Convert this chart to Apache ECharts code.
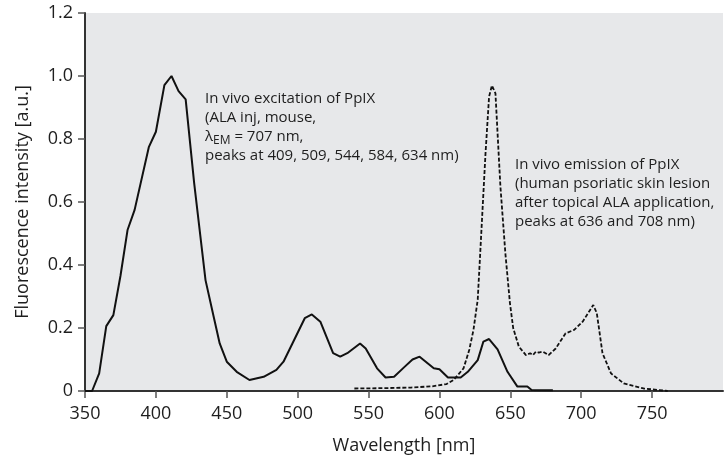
<!DOCTYPE html>
<html>
<head>
<meta charset="utf-8">
<script src="https://cdn.jsdelivr.net/npm/echarts@6/dist/echarts.min.js"></script>
<style>
  html, body { margin: 0; padding: 0; background: #fff; }
  #chart { width: 727px; height: 456px; }
</style>
</head>
<body>
<div id="chart"></div>
<script>
// excitation spectrum (solid)
const excWavelength = [350, 355, 360, 365, 370, 375, 380, 385, 395, 400, 406, 411, 416, 421, 427, 435, 441, 445, 450, 457, 466, 476, 485, 490, 505, 510, 516, 525, 530, 535, 544, 548, 556, 562, 568, 575, 581, 586, 596, 600, 606, 615, 620, 627, 631, 635, 641, 648, 655, 662, 665, 680];
const excIntensity = [0, 0, 0.056, 0.206, 0.241, 0.365, 0.511, 0.575, 0.774, 0.823, 0.971, 1.0, 0.952, 0.926, 0.66, 0.352, 0.231, 0.151, 0.093, 0.061, 0.035, 0.045, 0.067, 0.093, 0.231, 0.243, 0.22, 0.12, 0.109, 0.12, 0.151, 0.135, 0.072, 0.043, 0.045, 0.075, 0.1, 0.109, 0.072, 0.069, 0.043, 0.043, 0.061, 0.098, 0.157, 0.165, 0.132, 0.061, 0.014, 0.014, 0.003, 0.002];

// emission spectrum (dashed)
const emWavelength = [540, 560, 580, 595, 605, 610, 617, 621, 624, 627, 630, 632.5, 635, 637, 639.5, 643, 646.5, 649.7, 652, 656, 661, 664, 666, 668, 670, 673, 677, 682, 689, 695, 701, 708.5, 711, 715, 721, 730, 744, 761];
const emIntensity = [0.008, 0.009, 0.011, 0.015, 0.022, 0.035, 0.072, 0.13, 0.194, 0.29, 0.543, 0.755, 0.934, 0.97, 0.945, 0.649, 0.437, 0.28, 0.2, 0.141, 0.114, 0.12, 0.114, 0.125, 0.122, 0.125, 0.114, 0.135, 0.183, 0.194, 0.22, 0.273, 0.247, 0.12, 0.056, 0.024, 0.008, 0];

const xTicks = [350, 400, 450, 500, 550, 600, 650, 700, 750];

const font = "'Open Sans', sans-serif";
const ink = "#1e1e1e";

const chart = echarts.init(document.getElementById("chart"));

const option = {
  animation: false,
  grid: {
    left: 85,
    right: 4,
    top: 13,
    bottom: 65,
    outerBoundsMode: "none",
    show: true,
    backgroundColor: "#e7e8ea",
    borderWidth: 0
  },
  xAxis: {
    type: "value",
    min: 350,
    max: 800,
    interval: 50,
    name: "Wavelength [nm]",
    nameLocation: "middle",
    nameGap: 46,
    nameTextStyle: { fontFamily: font, fontSize: 18, color: ink },
    axisLine: { lineStyle: { color: "#333", width: 2 } },
    axisTick: { show: true, length: 7, lineStyle: { color: "#555", width: 1.5 }, customValues: xTicks },
    axisLabel: { fontFamily: font, fontSize: 18, color: ink, margin: 14, customValues: xTicks },
    splitLine: { show: false }
  },
  yAxis: {
    type: "value",
    min: 0,
    max: 1.2,
    interval: 0.2,
    name: "Fluorescence intensity [a.u.]",
    nameLocation: "middle",
    nameGap: 53,
    nameTextStyle: { fontFamily: font, fontSize: 18, color: ink },
    axisLine: { show: true, lineStyle: { color: "#333", width: 2 } },
    axisTick: { show: true, length: 7, lineStyle: { color: "#555", width: 1.5 } },
    axisLabel: {
      fontFamily: font,
      fontSize: 18,
      color: ink,
      margin: 12,
      formatter: v => (v === 0 ? "0" : v.toFixed(1))
    },
    splitLine: { show: false }
  },
  series: [
    {
      name: "excitation",
      type: "line",
      data: excWavelength.map((w, i) => [w, excIntensity[i]]),
      showSymbol: false,
      lineStyle: { color: "#111", width: 2 }
    },
    {
      name: "emission",
      type: "line",
      data: emWavelength.map((w, i) => [w, emIntensity[i]]),
      showSymbol: false,
      lineStyle: { color: "#111", width: 1.8, type: [4, 2] }
    }
  ],
  graphic: [
    {
      type: "text",
      left: 205,
      top: 91,
      style: {
        text: "{t|In vivo excitation of PpIX}\n{t|(ALA inj, mouse,}\n{t|λ}{s|EM}{t| = 707 nm,}\n{t|peaks at 409, 509, 544, 584, 634 nm)}",
        rich: {
          t: { fontFamily: font, fontSize: 15, lineHeight: 19, fill: ink },
          s: { fontFamily: font, fontSize: 12, lineHeight: 19, fill: ink, padding: [8, 0, 0, 0] }
        }
      }
    },
    {
      type: "text",
      left: 515,
      top: 155,
      style: {
        text: "In vivo emission of PpIX\n(human psoriatic skin lesion\nafter topical ALA application,\npeaks at 636 and 708 nm)",
        font: "15px " + font,
        lineHeight: 19,
        fill: ink
      }
    }
  ]
};

chart.setOption(option);
</script>
</body>
</html>
